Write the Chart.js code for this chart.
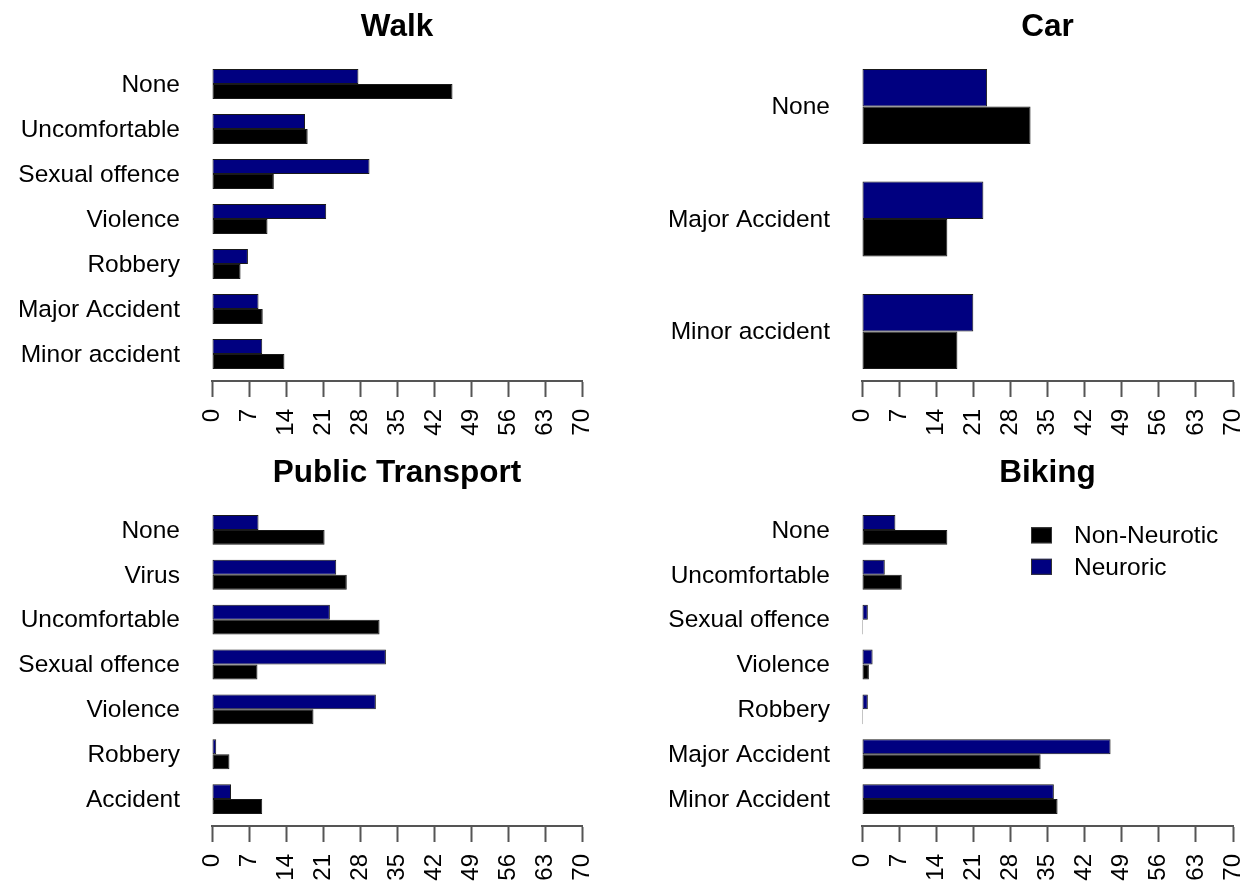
<!DOCTYPE html>
<html>
<head>
<meta charset="utf-8">
<script src="https://cdn.jsdelivr.net/npm/chart.js@4"></script>
<style>
  html, body { margin: 0; padding: 0; background: #ffffff; }
  #wrap { position: relative; width: 1252px; height: 886px; overflow: hidden; background: #ffffff; }
  #wrap canvas { position: absolute; }
</style>
</head>
<body>
<div id="wrap">
  <canvas id="walk" width="626" height="443" style="left:0px;top:0px"></canvas>
  <canvas id="car" width="626" height="443" style="left:626px;top:0px"></canvas>
  <canvas id="pt" width="626" height="443" style="left:0px;top:443px"></canvas>
  <canvas id="bike" width="626" height="443" style="left:626px;top:443px"></canvas>
</div>
<script>
// Series names (legend order) and shared value axis ticks
const seriesNames = ['Non-Neurotic', 'Neuroric'];
const xTicks = [0, 7, 14, 21, 28, 35, 42, 49, 56, 63, 70];

// Walk
const walkCategories = ['None', 'Uncomfortable', 'Sexual offence', 'Violence', 'Robbery', 'Major Accident', 'Minor accident'];
const walkNonNeurotic = [45.5, 18.1, 11.7, 10.5, 5.4, 9.6, 13.7];
const walkNeurotic = [27.7, 17.6, 29.8, 21.6, 6.8, 8.8, 9.5];

// Car
const carCategories = ['None', 'Major Accident', 'Minor accident'];
const carNonNeurotic = [31.8, 16.1, 18.0];
const carNeurotic = [23.6, 22.9, 21.0];

// Public Transport
const ptCategories = ['None', 'Virus', 'Uncomfortable', 'Sexual offence', 'Violence', 'Robbery', 'Accident'];
const ptNonNeurotic = [21.3, 25.5, 31.7, 8.6, 19.2, 3.3, 9.5];
const ptNeurotic = [8.8, 23.5, 22.3, 32.9, 31.0, 0.8, 3.6];

// Biking
const bikeCategories = ['None', 'Uncomfortable', 'Sexual offence', 'Violence', 'Robbery', 'Major Accident', 'Minor Accident'];
const bikeNonNeurotic = [16.1, 7.5, 0, 1.3, 0, 33.7, 36.9];
const bikeNeurotic = [6.3, 4.3, 1.1, 2.0, 1.1, 46.9, 36.2];

const FONT = '"Liberation Sans", Arial, Helvetica, sans-serif';
Chart.defaults.font.family = FONT;
Chart.defaults.color = '#000000';

const COLOR_NON = '#000000';
const COLOR_NEU = '#000080';
const AXIS_GREY = '#555555';
const LABEL_SIZE = 24.5;
const TITLE_SIZE = 31.5;

// Legend drawn inside the plot, boxes on the left, one row per series
const insideLegend = {
  id: 'insideLegend',
  afterDraw(chart, args, opts) {
    if (!opts || !opts.show) return;
    const ctx = chart.ctx;
    const sets = chart.data.datasets.slice().reverse();
    ctx.save();
    ctx.font = LABEL_SIZE + 'px ' + FONT;
    ctx.textBaseline = 'middle';
    ctx.textAlign = 'left';
    sets.forEach((ds, k) => {
      const cy = opts.y + k * opts.rowGap;
      ctx.fillStyle = ds.backgroundColor;
      ctx.fillRect(opts.x, cy - opts.boxH / 2, opts.boxW, opts.boxH);
      ctx.lineWidth = 1;
      ctx.strokeStyle = '#333333';
      ctx.strokeRect(opts.x + 0.5, cy - opts.boxH / 2 + 0.5, opts.boxW - 1, opts.boxH - 1);
      ctx.fillStyle = '#000000';
      ctx.fillText(ds.label, opts.textX, cy + 1);
    });
    ctx.restore();
  }
};

function makePanel(id, title, cats, nonNeu, neu, geo, legend) {
  const n = cats.length;
  // grouped bars: 2 bars + 1 gap per group, range padded by 4% on each side
  const span = 3 * n - 1;
  const yMin = (-1 - 0.04 * span) / 3;
  const yMax = (3 * n - 2 + 0.04 * span) / 3;
  const toPoints = arr => arr.map((v, i) => ({ x: v, y: i }));

  return new Chart(document.getElementById(id), {
    type: 'bar',
    data: {
      datasets: [
        {
          label: seriesNames[1],
          data: toPoints(neu),
          backgroundColor: COLOR_NEU,
          borderColor: '#1a1a1a',
          borderWidth: 1,
          borderSkipped: false
        },
        {
          label: seriesNames[0],
          data: toPoints(nonNeu),
          backgroundColor: COLOR_NON,
          borderColor: '#1a1a1a',
          borderWidth: 1,
          borderSkipped: false
        }
      ]
    },
    options: {
      indexAxis: 'y',
      responsive: false,
      animation: false,
      devicePixelRatio: 1,
      categoryPercentage: 2 / 3,
      barPercentage: 1,
      minBarLength: 1,
      layout: { padding: { left: 0, top: 0, right: geo.padRight, bottom: geo.padBottom } },
      plugins: {
        legend: { display: false },
        tooltip: { enabled: false },
        title: {
          display: true,
          fullSize: false,
          text: title,
          color: '#000000',
          font: { size: TITLE_SIZE, weight: 'bold', family: FONT, lineHeight: 1.2 },
          padding: { top: geo.titleTop, bottom: geo.titleBottom }
        },
        insideLegend: legend || { show: false }
      },
      scales: {
        x: {
          type: 'linear',
          position: 'bottom',
          min: 0,
          max: 70,
          offset: false,
          afterBuildTicks: s => { s.ticks = xTicks.map(v => ({ value: v })); },
          afterFit: s => {
            s.height = geo.xAxisH;
            s.paddingLeft = 0;
            s.paddingRight = 0;
          },
          grid: {
            display: true,
            offset: false,
            drawOnChartArea: false,
            drawTicks: true,
            tickLength: 16,
            tickWidth: 2,
            tickColor: AXIS_GREY
          },
          border: { display: true, color: AXIS_GREY, width: 2 },
          ticks: {
            autoSkip: false,
            minRotation: 90,
            maxRotation: 90,
            padding: 12,
            color: '#000000',
            font: { size: 24, family: FONT }
          }
        },
        y: {
          type: 'linear',
          reverse: true,
          offset: false,
          min: yMin,
          max: yMax,
          afterBuildTicks: s => { s.ticks = cats.map((c, i) => ({ value: i })); },
          afterFit: s => { s.width = geo.yAxisW; },
          grid: { display: false, drawTicks: false, offset: false },
          border: { display: false },
          ticks: {
            autoSkip: false,
            padding: 32,
            labelOffset: 1,
            color: '#000000',
            font: { size: LABEL_SIZE, family: FONT },
            callback: v => cats[v]
          }
        }
      }
    },
    plugins: [insideLegend]
  });
}

const topLeft = { yAxisW: 212, padRight: 44, titleTop: 8.6, titleBottom: 10.6, xAxisH: 58, padBottom: 4 };
const topRight = { yAxisW: 236, padRight: 19, titleTop: 8.6, titleBottom: 10.6, xAxisH: 58, padBottom: 4 };
const botLeft = { yAxisW: 212, padRight: 44, titleTop: 11.4, titleBottom: 10.8, xAxisH: 56, padBottom: 4 };
const botRight = { yAxisW: 236, padRight: 19, titleTop: 11.4, titleBottom: 10.8, xAxisH: 56, padBottom: 4 };

makePanel('walk', 'Walk', walkCategories, walkNonNeurotic, walkNeurotic, topLeft);
makePanel('car', 'Car', carCategories, carNonNeurotic, carNeurotic, topRight);
makePanel('pt', 'Public Transport', ptCategories, ptNonNeurotic, ptNeurotic, botLeft);
makePanel('bike', 'Biking', bikeCategories, bikeNonNeurotic, bikeNeurotic, botRight,
  { show: true, x: 405, y: 92.3, rowGap: 31.5, boxW: 21, boxH: 16, textX: 448 });
</script>
</body>
</html>
